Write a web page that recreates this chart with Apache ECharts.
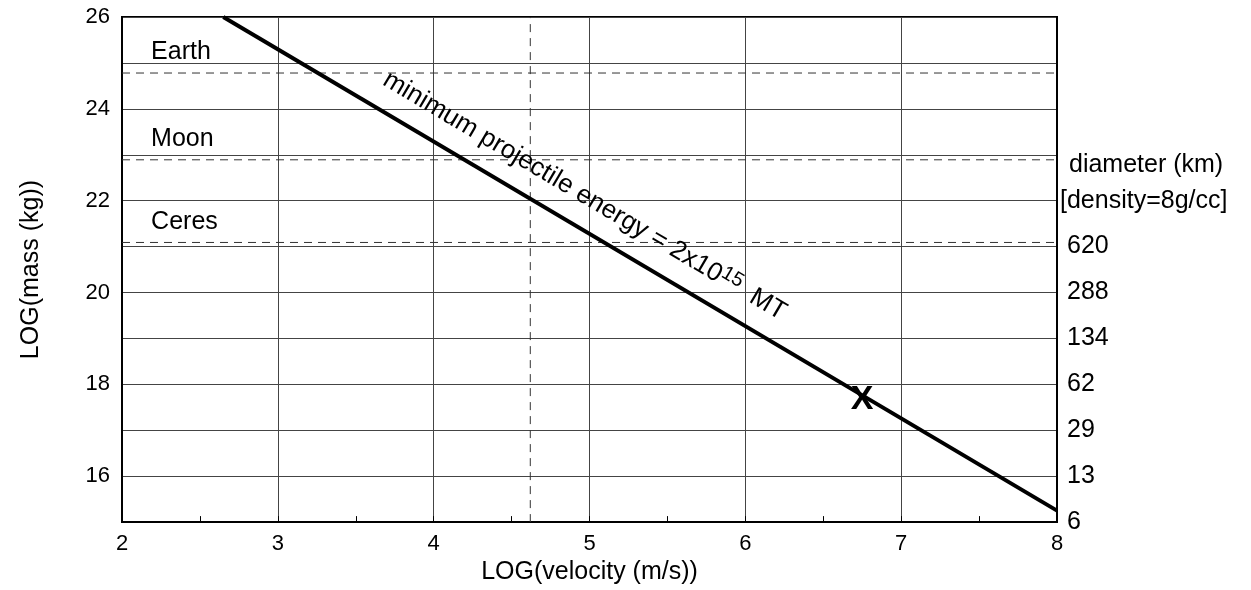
<!DOCTYPE html>
<html><head><meta charset="utf-8">
<script src="https://cdn.jsdelivr.net/npm/echarts@6/dist/echarts.min.js"></script>
<style>html,body{margin:0;padding:0;background:#fff}#c{width:1251px;height:590px}</style>
</head><body><div id="c"></div>
<script>
const FONT = '"Liberation Sans", Arial, Helvetica, sans-serif';

// ---- data ----
const xRange = [2, 8];
const yRange = [15, 26];
const energyLine = [[2.65, 26], [8, 15.25]];
const planetNames = ['Earth', 'Moon', 'Ceres'];
const planetLogMass = [24.78, 22.89, 21.09];
const planetLabelX = 2.19;
const velocityMarkerX = 4.62;
const targetPoint = [6.75, 17.74];
const leftTickLabels = [16, 18, 20, 22, 24, 26];
const diameterTickValues = [15, 16, 17, 18, 19, 20, 21];
const diameterTickLabels = ['6', '13', '29', '62', '134', '288', '620'];
const diameterTitle = ['diameter (km)', '[density=8g/cc]'];
const diameterTitleY = [22.78, 22.0];
const energyText = ['minimum projectile energy = 2x10', '15', '  MT'];

const chart = echarts.init(document.getElementById('c'), null, {renderer: 'canvas'});

const dashStyle = {color: '#333', width: 1, type: [8, 6]};
const series = [];
series.push({
  type: 'line', data: energyLine, symbol: 'none', silent: true, z: 5,
  lineStyle: {color: '#000', width: 4}
});
planetLogMass.forEach((m, i) => {
  series.push({
    type: 'line', data: [[xRange[0], m], [xRange[1], m]], symbol: 'none', silent: true,
    lineStyle: dashStyle, z: 3
  });
});
series.push({
  type: 'line', data: [[velocityMarkerX, yRange[0]], [velocityMarkerX, yRange[1]]],
  symbol: 'none', silent: true, lineStyle: dashStyle, z: 3
});
series.push({
  type: 'scatter', silent: true, symbolSize: 1, itemStyle: {color: 'rgba(0,0,0,0)', opacity: 1},
  data: planetNames.map((n, i) => ({value: [planetLabelX, planetLogMass[i]], name: n})),
  label: {show: true, formatter: p => p.name, position: [0, -20], align: 'left', verticalAlign: 'middle',
    fontFamily: FONT, fontSize: 25, color: '#000', opacity: 1}
});
series.push({
  type: 'scatter', silent: true, symbolSize: 1, itemStyle: {color: 'rgba(0,0,0,0)', opacity: 1}, z: 6,
  data: [targetPoint],
  label: {show: true, formatter: 'X', position: 'inside', offset: [0, 3], fontFamily: FONT, fontSize: 34,
    fontWeight: 'bold', color: '#000', opacity: 1}
});

const option = {
  animation: false,
  backgroundColor: '#fff',
  grid: {left: 122, right: 194, top: 17, bottom: 64, show: true, borderColor: '#000', borderWidth: 2},
  xAxis: {
    type: 'value', min: xRange[0], max: xRange[1], interval: 1,
    name: 'LOG(velocity (m/s))', nameLocation: 'middle', nameGap: 34,
    nameTextStyle: {fontFamily: FONT, fontSize: 25, color: '#000'},
    axisLine: {show: true, lineStyle: {color: '#000', width: 2}},
    axisTick: {show: true, inside: true, length: 6, lineStyle: {color: '#000'}},
    minorTick: {show: true, splitNumber: 2, length: 6, lineStyle: {color: '#000'}},
    axisLabel: {fontFamily: FONT, fontSize: 22, color: '#000', margin: 11},
    splitLine: {show: true, lineStyle: {color: '#444', width: 1}}
  },
  yAxis: [{
    type: 'value', min: yRange[0], max: yRange[1], interval: 1,
    name: 'LOG(mass (kg))', nameLocation: 'middle', nameGap: 78, nameRotate: 90,
    nameTextStyle: {fontFamily: FONT, fontSize: 25, color: '#000'},
    axisLine: {show: true, lineStyle: {color: '#000', width: 2}},
    axisTick: {show: false},
    axisLabel: {fontFamily: FONT, fontSize: 22, color: '#000', margin: 12,
      formatter: v => leftTickLabels.includes(v) ? String(v) : ''},
    splitLine: {show: true, lineStyle: {color: '#444', width: 1}}
  }, {
    type: 'value', min: yRange[0], max: yRange[1], interval: 1, position: 'right',
    axisLine: {show: true, lineStyle: {color: '#000', width: 2}},
    axisTick: {show: false}, splitLine: {show: false},
    axisLabel: {fontFamily: FONT, fontSize: 25, color: '#000', margin: 10,
      formatter: v => { const i = diameterTickValues.indexOf(v); return i >= 0 ? diameterTickLabels[i] : ''; }}
  }],
  series: series
};
chart.setOption(option);

// ---- annotations placed via axis conversion ----
const a = chart.convertToPixel({gridIndex: 0}, energyLine[0]);
const b = chart.convertToPixel({gridIndex: 0}, energyLine[1]);
const ang = Math.atan2(b[1] - a[1], b[0] - a[0]);
const tx = 3.59;
const t = (tx - energyLine[0][0]) / (energyLine[1][0] - energyLine[0][0]);
const foot = [a[0] + t * (b[0] - a[0]), a[1] + t * (b[1] - a[1])];
const off = 30;
const pos = [foot[0] + off * Math.sin(ang), foot[1] - off * Math.cos(ang)];

const graphics = [{
  type: 'text', x: pos[0], y: pos[1], rotation: -ang, silent: true, z: 10,
  style: {
    text: '{m|' + energyText[0] + '}{s|' + energyText[1] + '}{m|' + energyText[2] + '}',
    align: 'left', verticalAlign: 'middle',
    rich: {
      m: {fontFamily: FONT, fontSize: 26, lineHeight: 31, fill: '#000'},
      s: {fontFamily: FONT, fontSize: 20, lineHeight: 20, verticalAlign: 'top', fill: '#000'}
    }
  }
}];
const d0 = chart.convertToPixel({gridIndex: 0}, [xRange[1], diameterTitleY[0]]);
const d1 = chart.convertToPixel({gridIndex: 0}, [xRange[1], diameterTitleY[1]]);
graphics.push({type: 'text', x: d0[0] + 12, y: d0[1], silent: true,
  style: {text: diameterTitle[0], font: '25px ' + FONT, fill: '#000', align: 'left', verticalAlign: 'middle'}});
graphics.push({type: 'text', x: d1[0] + 3, y: d1[1], silent: true,
  style: {text: diameterTitle[1], font: '25px ' + FONT, fill: '#000', align: 'left', verticalAlign: 'middle'}});
chart.setOption({graphic: graphics});
</script>
</body></html>
